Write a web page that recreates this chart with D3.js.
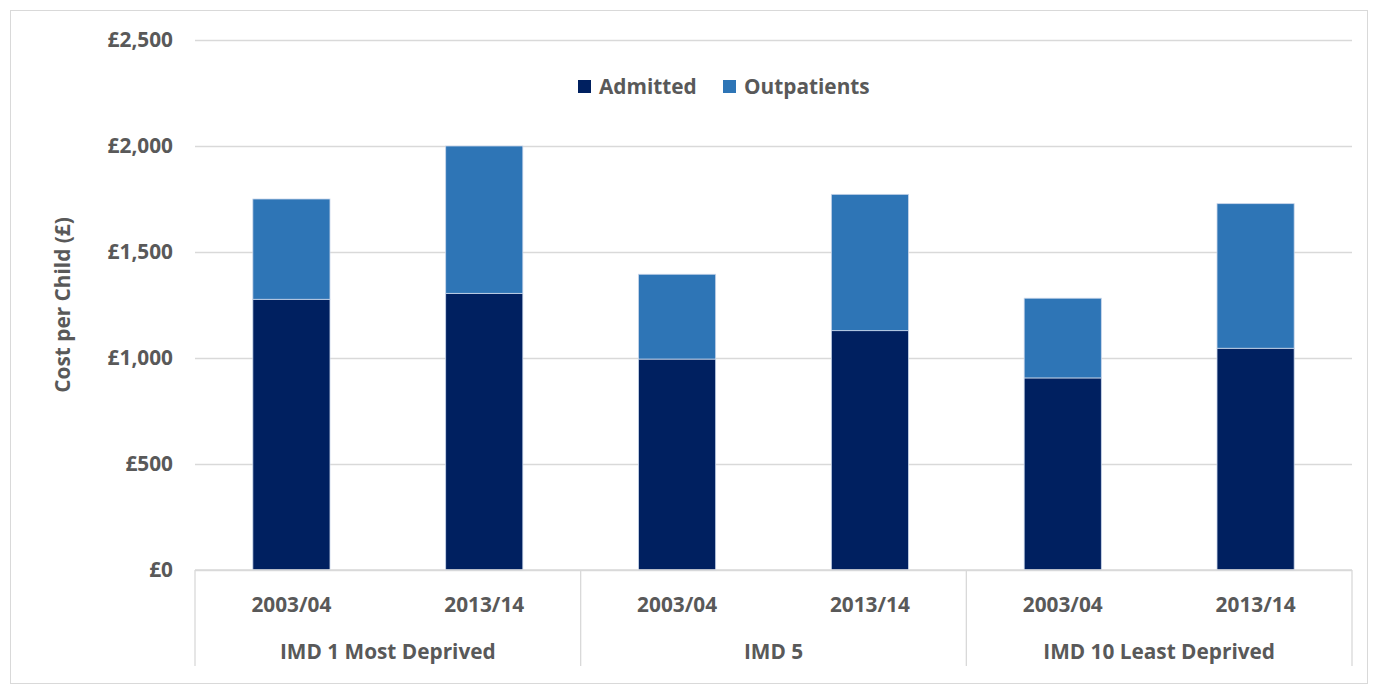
<!DOCTYPE html>
<html>
<head>
<meta charset="utf-8">
<script src="https://cdn.jsdelivr.net/npm/d3@7"></script>
<style>
  body { margin: 0; background: #fff; }
  text { font-family: "Open Sans", "Noto Sans", sans-serif; font-weight: bold; fill: #595959; }
</style>
</head>
<body>
<script>
// Chart data
//= ================================
let groups = ['IMD 1 Most Deprived', 'IMD 5', 'IMD 10 Least Deprived'];
let years = ['2003/04', '2013/14'];
let admitted = [1277, 1305, 995, 1129, 906, 1046];
let outpatients = [473, 695, 400, 643, 376, 682];
let yTicks = [0, 500, 1000, 1500, 2000, 2500];
let seriesNames = ['Admitted', 'Outpatients'];
let seriesColors = ['#002060', '#2E75B6'];

let svgWidth = 1373;
let svgHeight = 689;
let margin = { top: 40, right: 21, bottom: 119, left: 195 };
let width = svgWidth - margin.left - margin.right;
let height = svgHeight - margin.top - margin.bottom;
let fontSize = '20.8px';

let svg = d3.select("body")
  .append("svg")
  .attr("width", svgWidth)
  .attr("height", svgHeight);

// outer chart border
svg.append("rect")
  .attr("x", 10.5).attr("y", 10.5)
  .attr("width", svgWidth - 16).attr("height", svgHeight - 16)
  .attr("fill", "none")
  .attr("stroke", "#d9d9d9");

let chartGroup = svg.append("g")
  .attr("transform", `translate(${margin.left}, ${margin.top})`);

// build rows
let rows = [];
groups.forEach((g, gi) => {
  years.forEach((y, yi) => {
    let i = gi * years.length + yi;
    rows.push({ key: g + '|' + y, group: g, year: y, admitted: admitted[i], outpatients: outpatients[i] });
  });
});

// Scales
//= ================================
let xScale = d3.scaleBand()
  .domain(rows.map(d => d.key))
  .range([0, width])
  .padding(0);
let barWidth = xScale.bandwidth() * 0.4;

let groupScale = d3.scaleBand()
  .domain(groups)
  .range([0, width]);

let yScale = d3.scaleLinear()
  .domain([0, 2500])
  .range([height, 0]);

// gridlines + y labels
let leftAxis = d3.axisLeft(yScale)
  .tickValues(yTicks)
  .tickSize(-width)
  .tickPadding(22)
  .tickFormat(d => '£' + d3.format(',')(d));

let yAxisG = chartGroup.append('g').call(leftAxis);
yAxisG.select('.domain').remove();
yAxisG.selectAll('line').attr('stroke', '#d9d9d9').attr('stroke-width', 1.3);
yAxisG.selectAll('text')
  .attr('font-size', fontSize)
  .attr('fill', '#595959');

// Stacked bars
//= ================================
let stack = d3.stack().keys(['admitted', 'outpatients']);
let stacked = stack(rows);

chartGroup.append('g')
  .selectAll('g')
  .data(stacked)
  .enter()
  .append('g')
  .attr('fill', (d, i) => seriesColors[i])
  .selectAll('rect')
  .data(d => d)
  .enter()
  .append('rect')
  .attr('x', d => xScale(d.data.key) + (xScale.bandwidth() - barWidth) / 2)
  .attr('y', d => yScale(d[1]))
  .attr('width', barWidth)
  .attr('height', d => yScale(d[0]) - yScale(d[1]))
  .attr('stroke', '#c9d6ea')
  .attr('stroke-width', 0.8);

// Category axis (two levels)
//= ================================
let axisG = chartGroup.append('g').attr('transform', `translate(0, ${height})`);
axisG.append('line')
  .attr('x1', 0).attr('x2', width)
  .attr('y1', 0).attr('y2', 0)
  .attr('stroke', '#d9d9d9').attr('stroke-width', 1.3);

let dividers = groups.map(g => groupScale(g)).concat([width]);
axisG.selectAll('.divider')
  .data(dividers)
  .enter()
  .append('line')
  .attr('class', 'divider')
  .attr('x1', d => d).attr('x2', d => d)
  .attr('y1', 0).attr('y2', 96)
  .attr('stroke', '#d9d9d9').attr('stroke-width', 1.3);

axisG.selectAll('.year')
  .data(rows)
  .enter()
  .append('text')
  .attr('class', 'year')
  .attr('x', d => xScale(d.key) + xScale.bandwidth() / 2)
  .attr('y', 42)
  .attr('text-anchor', 'middle')
  .attr('font-size', fontSize)
  .text(d => d.year);

axisG.selectAll('.grp')
  .data(groups)
  .enter()
  .append('text')
  .attr('class', 'grp')
  .attr('x', d => groupScale(d) + groupScale.bandwidth() / 2)
  .attr('y', 89)
  .attr('text-anchor', 'middle')
  .attr('font-size', fontSize)
  .text(d => d);

// Y axis title
svg.append('text')
  .attr('transform', 'rotate(-90)')
  .attr('x', -305)
  .attr('y', 70)
  .attr('text-anchor', 'middle')
  .attr('font-size', fontSize)
  .text('Cost per Child (£)');

// Legend
//= ================================
let legendX = [578, 723];
let legend = svg.append('g')
  .selectAll('g')
  .data(seriesNames)
  .enter()
  .append('g')
  .attr('transform', (d, i) => `translate(${legendX[i]}, 80)`);
legend.append('rect')
  .attr('width', 13).attr('height', 13)
  .attr('fill', (d, i) => seriesColors[i]);
legend.append('text')
  .attr('x', 21)
  .attr('y', 14)
  .attr('font-size', fontSize)
  .text(d => d);
</script>
</body>
</html>
